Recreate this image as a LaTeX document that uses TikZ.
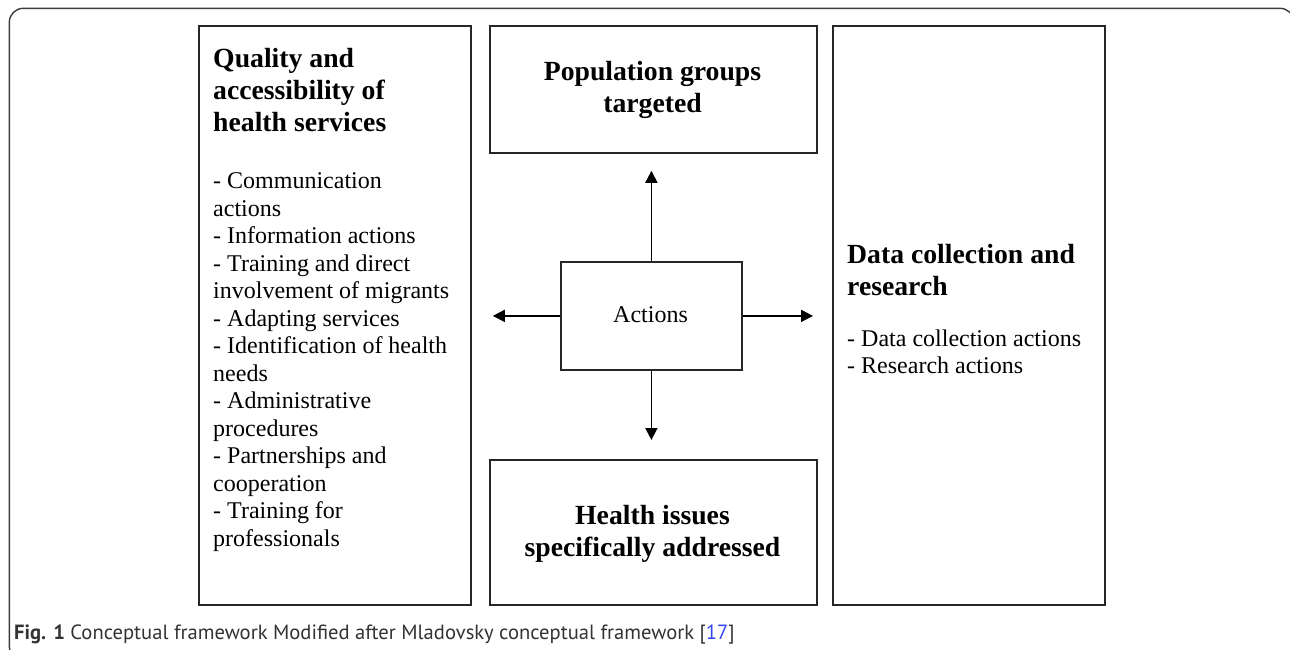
\documentclass[tikz,border=0pt]{standalone}
\usepackage{fontspec}
\setmainfont{Liberation Serif}
\newfontfamily\captionfont{PT Sans}
\usetikzlibrary{arrows.meta}
\definecolor{framegray}{HTML}{3C3C3C}
\definecolor{captiongray}{HTML}{333333}
\definecolor{refblue}{HTML}{3344EE}

\begin{document}
\begin{tikzpicture}[x=1pt,y=-1pt,
  panel/.style={draw=black!85, line width=1.8pt, inner sep=0pt, anchor=north west},
  headtext/.style={inner sep=0pt, align=#1, font=\fontsize{27.7}{32}\selectfont\bfseries},
  bodytext/.style={inner sep=0pt, align=left, font=\fontsize{24}{27.5}\selectfont},
  arr/.style={line width=1.8pt, -{Triangle[length=12pt,width=12pt]}}]

\useasboundingbox (0,0) rectangle (1290,649);
\clip (0,0) rectangle (1290,649);

% outer frame of the figure
\draw[framegray, line width=1.4pt, rounded corners=14pt] (9.3,8.3) rectangle (1294,660);

% panels
\node[panel, minimum width=272pt, minimum height=579pt] (qual) at (198,25) {};
\node[panel, minimum width=327pt, minimum height=127pt] (pop)  at (489,25) {};
\node[panel, minimum width=327pt, minimum height=145pt] (hlth) at (489,459) {};
\node[panel, minimum width=272pt, minimum height=579pt] (data) at (832,25) {};
\node[panel, minimum width=181pt, minimum height=108pt] (act)  at (560,261) {};

% panel texts
\node[headtext=left, anchor=north west] (qualhead) at (213,48.3)
  {Quality and\\accessibility of\\health services};
\node[bodytext, anchor=north west] (qualbody) at (213,172.6)
  {- Communication\\actions\\- Information actions\\- Training and direct\\involvement of migrants\\- Adapting services\\- Identification of health\\needs\\- Administrative\\procedures\\- Partnerships and\\cooperation\\- Training for\\professionals};
\node[headtext=center, anchor=north] (pophead) at (652.5,61.3)
  {Population groups\\targeted};
\node[headtext=center, anchor=north] (hlthhead) at (652.5,505.3)
  {Health issues\\specifically addressed};
\node[headtext=left, anchor=north west] (datahead) at (847,244.3)
  {Data collection and\\research};
\node[bodytext, anchor=north west] (databody) at (847,329.6)
  {- Data collection actions\\- Research actions};
\node[inner sep=0pt, anchor=base, font=\fontsize{24}{27.5}\selectfont] (acttext) at (650.5,322) {Actions};

% arrows from the central box
\draw[arr, shorten >=17pt] (act.north) -- (act.north |- pop.south);
\draw[arr, shorten >=19pt] (act.south) -- (act.south |- hlth.north);
\draw[arr, shorten >=21pt] (act.west) -- (act.west -| qual.east);
\draw[arr, shorten >=19pt] (act.east) -- (act.east -| data.west);

% caption
\node[inner sep=0pt, anchor=base west, text=captiongray, font=\captionfont\fontsize{20.6}{24}\selectfont] (caption) at (14,639)
  {\textbf{Fig. 1} Conceptual framework Modified after Mladovsky conceptual framework [{\color{refblue}17}]};
\end{tikzpicture}
\end{document}
